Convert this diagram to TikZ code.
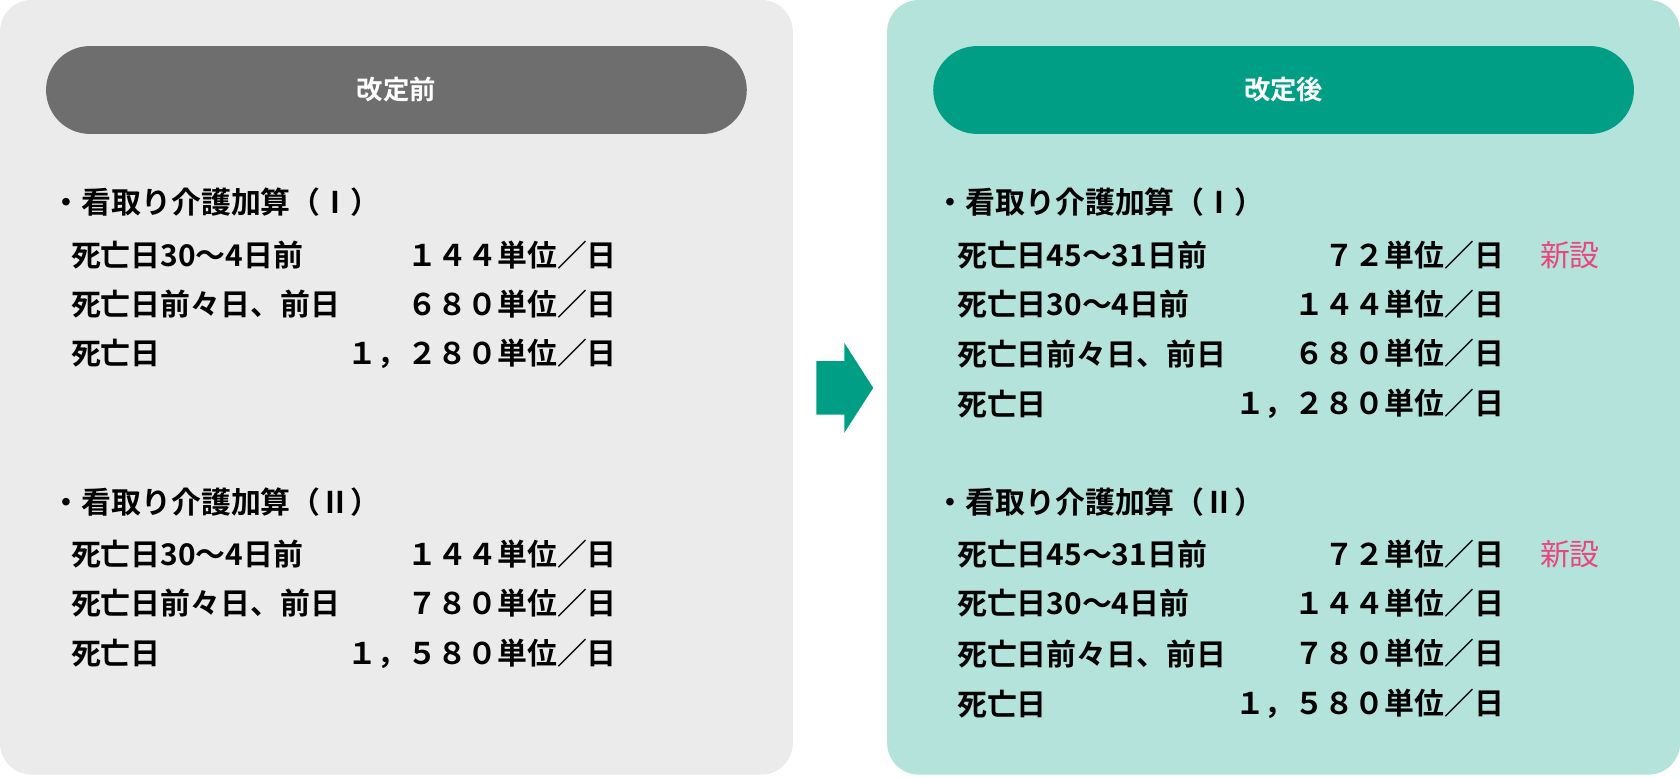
\documentclass[tikz,border=0pt]{standalone}
\usepackage{fontspec}
\setmainfont{Noto Sans CJK JP}[BoldFont={Noto Sans CJK JP Bold}]
\usetikzlibrary{positioning}
\definecolor{panelgray}{HTML}{EBEBEB}
\definecolor{panelteal}{HTML}{B3E3DB}
\definecolor{pillgray}{HTML}{6E6E6E}
\definecolor{pillteal}{HTML}{009E85}
\definecolor{newpink}{HTML}{E8467C}
\tikzset{
  panel/.style={rounded corners=18pt, draw=none},
  pill/.style={rounded corners=41*0.0214cm, draw=none},
  title/.style={text=white, font=\fontsize{15}{18}\selectfont\bfseries},
  item/.style={anchor=west, inner sep=0pt, font=\fontsize{17}{20}\selectfont\bfseries},
  value/.style={anchor=east, inner sep=0pt, font=\fontsize{17}{20}\selectfont\bfseries},
  newmark/.style={anchor=west, inner sep=0pt, text=newpink, font=\fontsize{17}{20}\selectfont}
}
\begin{document}
\begin{tikzpicture}[x=0.0214286cm, y=-0.0214286cm]
    \useasboundingbox (0,0) rectangle (1568,727);
    % Panels
    \fill[panel, panelgray] (0,0) rectangle (740,723);
    \fill[panel, panelteal] (828,0) rectangle (1568,723);

    % Header pills
    \fill[pill, pillgray] (43,43) rectangle (697,125);
    \fill[pill, pillteal] (871,43) rectangle (1525,125);
    \node[title] (before) at (370,84) {改定前};
    \node[title] (after) at (1198,84) {改定後};

    % Arrow
    \fill[pillteal] (762,337) -- (788,337) -- (788,320) -- (815,362) -- (788,404) -- (788,387) -- (762,387) -- cycle;

    % Before
    \node[item] (bI) at (48,189) {・看取り介護加算（Ⅰ）};
    \foreach \y/\lab/\val [count=\i] in {238/死亡日30～4日前/１４４単位／日, 284/死亡日前々日、前日/６８０単位／日, 330/死亡日/１，２８０単位／日} {
      \node[item] (bIl\i) at (66,\y) {\lab};
      \node[value] (bIv\i) at (576,\y) {\val};
    }
    \node[item] (bII) at (48,469) {・看取り介護加算（Ⅱ）};
    \foreach \y/\lab/\val [count=\i] in {517/死亡日30～4日前/１４４単位／日, 563/死亡日前々日、前日/７８０単位／日, 610/死亡日/１，５８０単位／日} {
      \node[item] (bIIl\i) at (66,\y) {\lab};
      \node[value] (bIIv\i) at (576,\y) {\val};
    }

    % After
    \node[item] (aI) at (873,189) {・看取り介護加算（Ⅰ）};
    \foreach \y/\lab/\val [count=\i] in {238/死亡日45～31日前/７２単位／日, 284/死亡日30～4日前/１４４単位／日, 330/死亡日前々日、前日/６８０単位／日, 377/死亡日/１，２８０単位／日} {
      \node[item] (aIl\i) at (893,\y) {\lab};
      \node[value] (aIv\i) at (1404,\y) {\val};
    }
    \node[newmark] (aInew) at (1437,238) {新設};
    \node[item] (aII) at (873,469) {・看取り介護加算（Ⅱ）};
    \foreach \y/\lab/\val [count=\i] in {517/死亡日45～31日前/７２単位／日, 563/死亡日30～4日前/１４４単位／日, 610/死亡日前々日、前日/７８０単位／日, 657/死亡日/１，５８０単位／日} {
      \node[item] (aIIl\i) at (893,\y) {\lab};
      \node[value] (aIIv\i) at (1404,\y) {\val};
    }
    \node[newmark] (aIInew) at (1437,517) {新設};
\end{tikzpicture}
\end{document}
